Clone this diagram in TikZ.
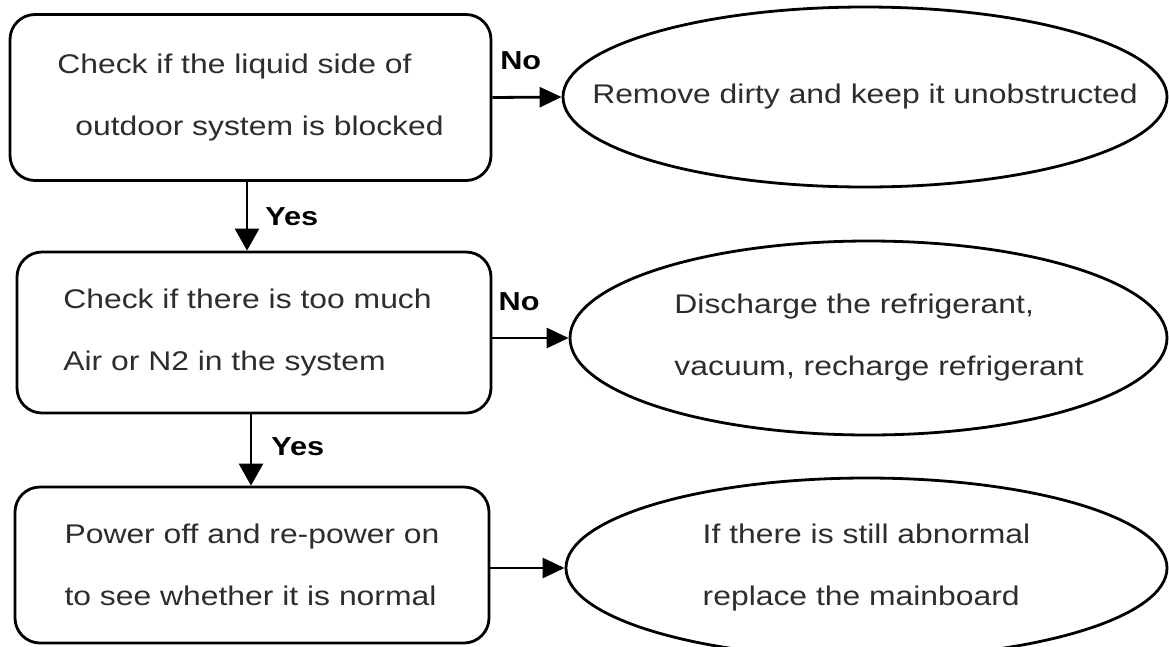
\documentclass[tikz,border=0pt]{standalone}
\usepackage{fontspec}
\setmainfont{Liberation Sans}[FakeStretch=1.18]
\usetikzlibrary{arrows.meta,shapes.geometric}
\definecolor{txtgray}{RGB}{45,45,45}
\tikzset{
  base/.style={draw=black, line width=2.8pt, inner sep=0pt, text=txtgray,
    font=\fontsize{27pt}{62pt}\selectfont},
  stepbox/.style={base, rectangle, rounded corners=25pt, align=left},
  endoval/.style={base, ellipse},
  harr/.style={line width=2.8pt, -{Triangle[length=22pt,width=20pt]}},
  varr/.style={line width=2.8pt, -{Triangle[length=22pt,width=24pt]}},
  lab/.style={font=\fontsize{26pt}{30pt}\selectfont\bfseries, inner sep=0pt, text=black},
}
\begin{document}
\begin{tikzpicture}[x=1pt,y=-1pt]
\useasboundingbox (0,0) rectangle (1169,646);

% process boxes
\node[stepbox, minimum width=481pt, minimum height=166pt] (b1) at (250.5,97.5)
  {Check if the liquid side of\\\makebox[18pt]{}outdoor system is blocked};
\node[stepbox, minimum width=474pt, minimum height=161pt] (b2) at (254,332.5)
  {Check if there is too much\makebox[13pt]{}\\Air or N2 in the system};
\node[stepbox, minimum width=474pt, minimum height=156pt] (b3) at (252,565)
  {Power off and re-power on\\to see whether it is normal};

% result ellipses
\node[endoval, minimum width=604pt, minimum height=180pt] (e1) at (865,97)
  {\makebox[0pt]{Remove dirty and keep it unobstructed}};
\node[endoval, minimum width=597pt, minimum height=194pt] (e2) at (868.5,338)
  {\makebox[0pt]{\smash{\begin{tabular}{@{\hspace{21pt}}l@{}}Discharge the refrigerant,\\vacuum, recharge refrigerant\end{tabular}}}};
\node[endoval, minimum width=601pt, minimum height=180pt] (e3) at (866.5,568)
  {\makebox[0pt]{\smash{\begin{tabular}{@{}l@{}}If there is still abnormal\\replace the mainboard\end{tabular}}}};

% connectors
\draw[harr] (b1.east) -- (e1.west) node[pos=0.41, above=26pt, lab] {No};
\draw[harr] (b2.east |- e2.west) -- (e2.west) node[pos=0.35, above=26pt, lab] {No};
\draw[harr] (b3.east |- e3.west) -- (e3.west);

\draw[varr] ([xshift=-3.5pt]b1.south) -- ([xshift=-3.5pt]b1.south |- b2.north)
  node[midway, right=17pt, lab] {Yes};
\draw[varr] ([xshift=-3pt]b2.south) -- ([xshift=-3pt]b2.south |- b3.north)
  node[pos=0.46, right=19pt, lab] {Yes};
\end{tikzpicture}
\end{document}
